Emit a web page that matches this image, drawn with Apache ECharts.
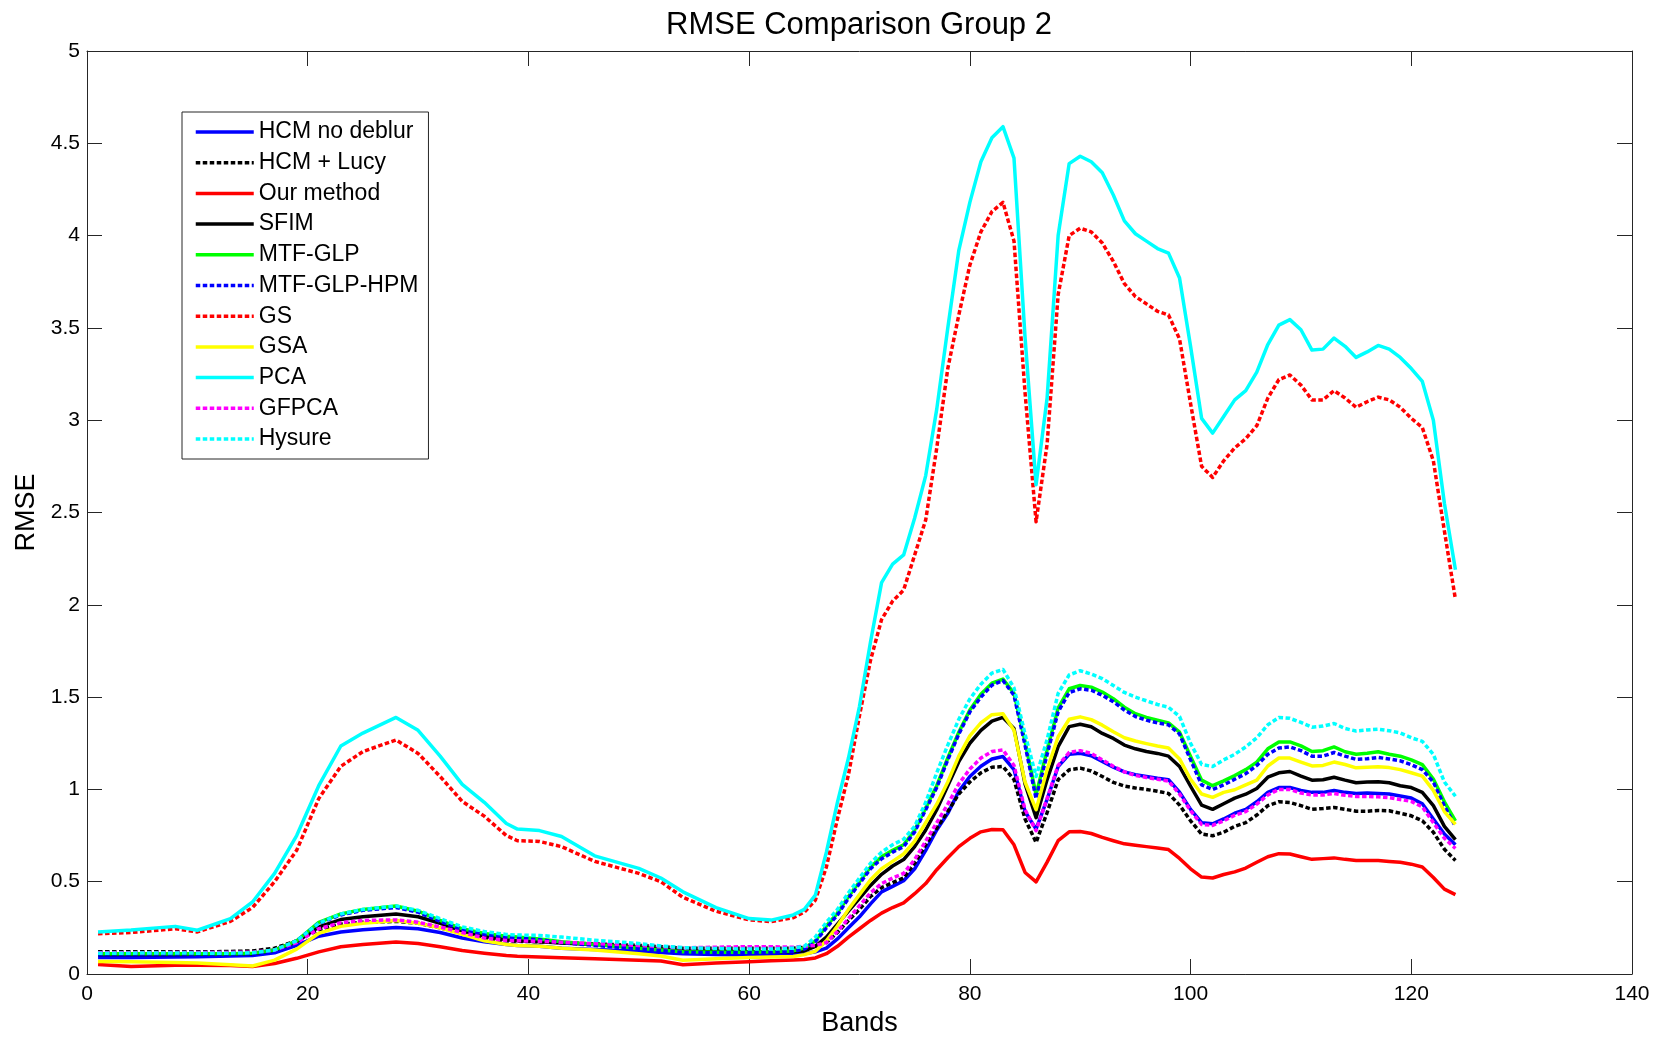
<!DOCTYPE html>
<html>
<head>
<meta charset="utf-8">
<title>RMSE Comparison Group 2</title>
<script src="https://cdn.jsdelivr.net/npm/echarts@6/dist/echarts.min.js"></script>
<style>
  html, body { margin: 0; padding: 0; background: #fff; }
  #chart { width: 1661px; height: 1042px; }
</style>
</head>
<body>
<div id="chart"></div>
<script>
// Spectral band indices where each curve is sampled
const bands = [1,4,8,10,13,15,17,19,21,23,
  25,28,30,32,34,36,38,39,41,43,
  46,50,52,54,57,60,62,64,65,66,
  67,68,69,70,71,72,73,74,75,76,
  77,78,79,80,81,82,83,84,85,86,
  87,88,89,90,91,92,93,94,95,96,
  97,98,99,100,101,102,103,104,105,106,
  107,108,109,110,111,112,113,114,115,116,
  117,118,119,120,121,122,123,124];

// RMSE per band for every fusion method
const hcmNoDeblur = [0.09,0.09,0.092,0.094,0.097,0.10,0.115,0.155,0.205,0.228,
  0.24,0.252,0.245,0.225,0.195,0.175,0.16,0.155,0.15,0.14,
  0.133,0.123,0.117,0.11,0.105,0.103,0.103,0.105,0.11,0.12,
  0.14,0.19,0.25,0.31,0.38,0.445,0.475,0.505,0.57,0.67,
  0.78,0.87,0.99,1.07,1.125,1.165,1.178,1.107,0.88,0.785,
  0.946,1.124,1.19,1.196,1.182,1.151,1.121,1.095,1.08,1.07,
  1.06,1.053,0.985,0.892,0.82,0.814,0.84,0.871,0.892,0.933,
  0.984,1.01,1.01,0.994,0.984,0.984,0.994,0.984,0.978,0.98,
  0.978,0.975,0.964,0.953,0.922,0.84,0.758,0.70];

const hcmLucy = [0.12,0.12,0.12,0.12,0.122,0.125,0.14,0.18,0.24,0.27,
  0.28,0.285,0.275,0.25,0.22,0.195,0.18,0.177,0.175,0.17,
  0.163,0.155,0.148,0.14,0.14,0.14,0.14,0.14,0.145,0.15,
  0.17,0.225,0.29,0.35,0.42,0.468,0.495,0.52,0.60,0.70,
  0.79,0.88,0.975,1.04,1.09,1.12,1.124,1.053,0.84,0.713,
  0.874,1.053,1.106,1.115,1.10,1.07,1.038,1.018,1.008,1.0,
  0.99,0.978,0.915,0.83,0.758,0.749,0.768,0.80,0.82,0.861,
  0.912,0.933,0.929,0.912,0.892,0.896,0.902,0.892,0.882,0.882,
  0.886,0.884,0.871,0.857,0.83,0.768,0.676,0.615];

const ourMethod = [0.052,0.04,0.047,0.048,0.046,0.04,0.057,0.085,0.12,0.148,
  0.16,0.173,0.165,0.148,0.127,0.113,0.10,0.096,0.092,0.088,
  0.083,0.075,0.07,0.05,0.06,0.067,0.072,0.076,0.078,0.087,
  0.11,0.15,0.20,0.245,0.29,0.33,0.36,0.385,0.435,0.49,
  0.565,0.63,0.69,0.735,0.77,0.783,0.781,0.70,0.55,0.499,
  0.606,0.722,0.77,0.772,0.761,0.74,0.722,0.705,0.697,0.69,
  0.682,0.674,0.626,0.57,0.525,0.52,0.539,0.553,0.574,0.605,
  0.635,0.652,0.65,0.635,0.621,0.625,0.629,0.621,0.615,0.615,
  0.615,0.61,0.605,0.595,0.58,0.523,0.46,0.43];

const sfim = [0.105,0.105,0.106,0.107,0.108,0.11,0.13,0.175,0.255,0.295,
  0.31,0.325,0.31,0.275,0.235,0.205,0.185,0.18,0.175,0.168,
  0.16,0.145,0.135,0.125,0.123,0.12,0.12,0.12,0.125,0.15,
  0.20,0.27,0.34,0.41,0.48,0.54,0.585,0.62,0.69,0.78,
  0.89,1.02,1.15,1.25,1.32,1.37,1.39,1.33,1.03,0.847,
  1.053,1.232,1.34,1.353,1.339,1.303,1.276,1.24,1.22,1.205,
  1.195,1.18,1.124,1.017,0.915,0.892,0.922,0.953,0.974,1.005,
  1.066,1.09,1.097,1.072,1.05,1.052,1.066,1.05,1.036,1.04,
  1.042,1.036,1.02,1.01,0.984,0.912,0.80,0.728];

const mtfGlp = [0.11,0.11,0.11,0.11,0.11,0.112,0.13,0.18,0.28,0.325,
  0.35,0.368,0.34,0.29,0.245,0.22,0.205,0.20,0.19,0.175,
  0.16,0.14,0.13,0.12,0.118,0.118,0.12,0.125,0.14,0.18,
  0.26,0.33,0.42,0.50,0.58,0.635,0.67,0.70,0.78,0.90,
  1.02,1.17,1.31,1.43,1.515,1.575,1.598,1.52,1.26,0.97,
  1.214,1.44,1.545,1.563,1.554,1.527,1.491,1.445,1.41,1.39,
  1.375,1.36,1.31,1.178,1.05,1.02,1.046,1.075,1.107,1.148,
  1.22,1.257,1.257,1.236,1.205,1.21,1.23,1.204,1.19,1.196,
  1.204,1.19,1.18,1.16,1.134,1.056,0.933,0.83];

const mtfGlpHpm = [0.108,0.108,0.108,0.108,0.108,0.11,0.128,0.178,0.275,0.32,
  0.345,0.36,0.335,0.285,0.24,0.215,0.20,0.195,0.185,0.17,
  0.155,0.137,0.127,0.117,0.115,0.115,0.117,0.122,0.135,0.175,
  0.25,0.32,0.41,0.49,0.57,0.624,0.66,0.69,0.77,0.89,
  1.01,1.16,1.30,1.42,1.50,1.565,1.59,1.51,1.24,0.95,
  1.19,1.42,1.525,1.545,1.537,1.51,1.475,1.43,1.395,1.375,
  1.36,1.35,1.30,1.16,1.025,1.0,1.025,1.055,1.085,1.13,
  1.19,1.224,1.23,1.21,1.18,1.18,1.20,1.18,1.163,1.166,
  1.173,1.165,1.155,1.134,1.107,1.04,0.91,0.80];

const gs = [0.218,0.225,0.245,0.228,0.285,0.36,0.50,0.67,0.95,1.125,
  1.205,1.268,1.195,1.07,0.935,0.855,0.75,0.722,0.718,0.69,
  0.61,0.545,0.50,0.415,0.34,0.293,0.284,0.305,0.335,0.40,
  0.58,0.84,1.08,1.40,1.70,1.92,2.02,2.08,2.27,2.46,
  2.85,3.28,3.57,3.84,4.02,4.13,4.18,3.97,3.15,2.45,
  2.87,3.68,4.00,4.04,4.02,3.96,3.86,3.74,3.67,3.63,
  3.59,3.57,3.44,3.09,2.75,2.69,2.78,2.85,2.90,2.97,
  3.12,3.22,3.245,3.19,3.11,3.11,3.16,3.12,3.07,3.10,
  3.125,3.11,3.07,3.01,2.96,2.78,2.40,2.03];

const gsa = [0.068,0.066,0.062,0.06,0.05,0.043,0.075,0.135,0.22,0.258,
  0.275,0.29,0.275,0.25,0.215,0.18,0.16,0.155,0.15,0.14,
  0.13,0.11,0.097,0.075,0.082,0.09,0.092,0.095,0.105,0.123,
  0.18,0.26,0.35,0.43,0.51,0.57,0.61,0.65,0.72,0.82,
  0.92,1.04,1.18,1.29,1.36,1.405,1.41,1.32,1.04,0.89,
  1.107,1.285,1.38,1.393,1.378,1.348,1.312,1.28,1.262,1.248,
  1.235,1.224,1.165,1.055,0.975,0.957,0.984,0.998,1.025,1.05,
  1.127,1.17,1.17,1.148,1.127,1.13,1.148,1.135,1.117,1.12,
  1.123,1.118,1.107,1.09,1.072,0.995,0.88,0.81];

const pca = [0.227,0.238,0.258,0.237,0.30,0.39,0.545,0.75,1.02,1.235,
  1.305,1.39,1.32,1.18,1.027,0.93,0.815,0.785,0.777,0.745,
  0.64,0.572,0.52,0.445,0.36,0.30,0.292,0.32,0.35,0.427,
  0.66,0.93,1.17,1.45,1.80,2.12,2.22,2.27,2.47,2.70,
  3.06,3.50,3.92,4.18,4.40,4.53,4.59,4.42,3.45,2.65,
  3.12,4.00,4.39,4.43,4.40,4.34,4.22,4.08,4.01,3.97,
  3.93,3.905,3.77,3.40,3.01,2.93,3.02,3.11,3.16,3.26,
  3.41,3.515,3.545,3.49,3.38,3.385,3.445,3.40,3.34,3.37,
  3.405,3.385,3.34,3.28,3.21,3.00,2.55,2.19];

const gfpca = [0.115,0.115,0.116,0.116,0.117,0.118,0.13,0.17,0.245,0.278,
  0.29,0.293,0.28,0.255,0.225,0.195,0.182,0.18,0.177,0.172,
  0.165,0.155,0.148,0.142,0.145,0.148,0.148,0.145,0.15,0.155,
  0.17,0.23,0.30,0.37,0.44,0.49,0.52,0.545,0.62,0.72,
  0.82,0.92,1.03,1.11,1.17,1.205,1.214,1.13,0.89,0.776,
  0.95,1.13,1.20,1.21,1.195,1.16,1.125,1.095,1.075,1.065,
  1.055,1.045,0.975,0.885,0.81,0.805,0.83,0.86,0.88,0.92,
  0.97,1.0,1.0,0.98,0.97,0.97,0.978,0.968,0.962,0.962,
  0.96,0.955,0.945,0.935,0.905,0.82,0.735,0.68];

const hysure = [0.112,0.113,0.114,0.113,0.113,0.115,0.13,0.18,0.275,0.325,
  0.35,0.368,0.345,0.30,0.255,0.23,0.214,0.211,0.209,0.20,
  0.183,0.165,0.152,0.143,0.138,0.135,0.135,0.14,0.15,0.20,
  0.28,0.35,0.44,0.52,0.60,0.66,0.70,0.73,0.80,0.93,
  1.09,1.24,1.38,1.49,1.57,1.63,1.65,1.55,1.30,1.07,
  1.27,1.52,1.62,1.643,1.625,1.60,1.563,1.525,1.50,1.48,
  1.46,1.445,1.395,1.25,1.135,1.124,1.16,1.19,1.23,1.28,
  1.35,1.39,1.385,1.363,1.337,1.343,1.357,1.33,1.316,1.322,
  1.326,1.318,1.306,1.28,1.26,1.19,1.04,0.963];

// Axis tick values
const xTicks = [0, 20, 40, 60, 80, 100, 120, 140];
const yTicks = [0, 0.5, 1, 1.5, 2, 2.5, 3, 3.5, 4, 4.5, 5];

// Legend order, colour and line pattern of each method
const methods = [
  { name: 'HCM no deblur', values: hcmNoDeblur, color: '#0000ff', dashed: false },
  { name: 'HCM + Lucy',    values: hcmLucy,     color: '#000000', dashed: true  },
  { name: 'Our method',    values: ourMethod,   color: '#ff0000', dashed: false },
  { name: 'SFIM',          values: sfim,        color: '#000000', dashed: false },
  { name: 'MTF-GLP',       values: mtfGlp,      color: '#00ff00', dashed: false },
  { name: 'MTF-GLP-HPM',   values: mtfGlpHpm,   color: '#0000ff', dashed: true  },
  { name: 'GS',            values: gs,          color: '#ff0000', dashed: true  },
  { name: 'GSA',           values: gsa,         color: '#ffff00', dashed: false },
  { name: 'PCA',           values: pca,         color: '#00ffff', dashed: false },
  { name: 'GFPCA',         values: gfpca,       color: '#ff00ff', dashed: true  },
  { name: 'Hysure',        values: hysure,      color: '#00ffff', dashed: true  }
];

const FONT = '"Liberation Sans", Arial, Helvetica, sans-serif';
const AXIS_COLOR = '#262626';
const LINE_W = 3.5;
const DASH = [4.5, 2.5];

const series = methods.map((m, i) => ({
  name: m.name,
  type: 'line',
  data: bands.map((b, k) => [b, m.values[k]]),
  symbol: 'none',
  showSymbol: false,
  smooth: false,
  z: 2 + i,
  color: m.color,
  lineStyle: {
    color: m.color,
    width: LINE_W,
    type: m.dashed ? DASH : 'solid',
    cap: 'butt',
    join: 'round'
  },
  emphasis: { disabled: true },
  animation: false
}));

const xMin = xTicks[0], xMax = xTicks[xTicks.length - 1], xStep = xTicks[1] - xTicks[0];
const yMin = yTicks[0], yMax = yTicks[yTicks.length - 1], yStep = yTicks[1] - yTicks[0];

const tickStyle = { show: true, inside: true, length: 15, lineStyle: { color: AXIS_COLOR, width: 1 } };
const lineStyleAxis = { show: true, onZero: false, lineStyle: { color: AXIS_COLOR, width: 1 } };

const chart = echarts.init(document.getElementById('chart'), null, { renderer: 'canvas' });
chart.setOption({
  animation: false,
  backgroundColor: '#ffffff',
  title: {
    text: 'RMSE Comparison Group 2',
    left: 859,
    top: 10,
    textAlign: 'center',
    padding: 0,
    textStyle: { fontFamily: FONT, fontSize: 31, fontWeight: 'normal', color: '#000' }
  },
  grid: { left: 87, right: 29, top: 51, bottom: 59, containLabel: false },
  legend: {
    orient: 'vertical',
    left: 182,
    top: 112,
    padding: [8, 10, 8, 12],
    itemWidth: 58,
    itemHeight: 14,
    itemGap: 6.7,
    backgroundColor: '#ffffff',
    borderColor: AXIS_COLOR,
    borderWidth: 1,
    borderRadius: 0,
    selectedMode: false,
    itemStyle: { color: 'transparent', borderWidth: 0, opacity: 0 },
    lineStyle: { width: LINE_W },
    textStyle: { fontFamily: FONT, fontSize: 23, color: '#000', lineHeight: 24 },
    data: methods.map(m => m.name)
  },
  xAxis: [
    {
      type: 'value', min: xMin, max: xMax, interval: xStep,
      position: 'bottom',
      name: 'Bands', nameLocation: 'middle', nameGap: 36,
      nameTextStyle: { fontFamily: FONT, fontSize: 27, color: '#000' },
      axisLine: lineStyleAxis, axisTick: tickStyle,
      axisLabel: { show: true, margin: 10, fontFamily: FONT, fontSize: 21, color: '#000' },
      splitLine: { show: false }
    },
    {
      type: 'value', min: xMin, max: xMax, interval: xStep,
      position: 'top',
      axisLine: lineStyleAxis, axisTick: tickStyle,
      axisLabel: { show: false }, splitLine: { show: false }
    }
  ],
  yAxis: [
    {
      type: 'value', min: yMin, max: yMax, interval: yStep,
      position: 'left',
      name: 'RMSE', nameLocation: 'middle', nameGap: 43, nameRotate: 90,
      nameTextStyle: { fontFamily: FONT, fontSize: 27, color: '#000' },
      axisLine: lineStyleAxis, axisTick: tickStyle,
      axisLabel: { show: true, margin: 7, fontFamily: FONT, fontSize: 21, color: '#000' },
      splitLine: { show: false }
    },
    {
      type: 'value', min: yMin, max: yMax, interval: yStep,
      position: 'right',
      axisLine: lineStyleAxis, axisTick: tickStyle,
      axisLabel: { show: false }, splitLine: { show: false }
    }
  ],
  tooltip: { show: false },
  series: series
});
</script>
</body>
</html>
